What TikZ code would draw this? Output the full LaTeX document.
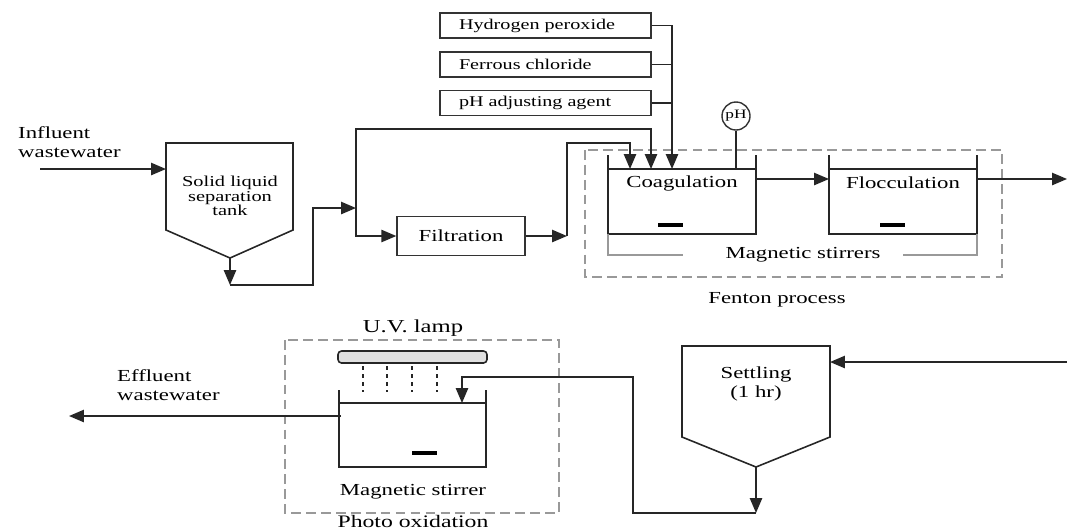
\documentclass[tikz,border=0pt]{standalone}
\usepackage{fontspec}
\setmainfont{Liberation Serif}[FakeStretch=1.35]
\usepackage{tikz}
\usetikzlibrary{arrows.meta}
\tikzstyle{reagent} = [rectangle, draw=black!80, line width=0.8pt, text width=3.46cm, inner xsep=0.38cm, minimum height=0.5cm, align=left, font=\fontsize{8.5}{10}\selectfont]
\tikzstyle{process} = [rectangle, draw=black!80, line width=0.8pt, minimum width=2.56cm, minimum height=0.78cm, font=\fontsize{9.6}{11}\selectfont]
\tikzstyle{probe} = [circle, draw=black!80, line width=0.8pt, minimum size=0.56cm, inner sep=0pt, font=\fontsize{7.3}{9}\selectfont]
\tikzstyle{txt} = [align=center, font=\fontsize{9.6}{10.4}\selectfont]
\tikzstyle{smalltxt} = [align=center, font=\fontsize{8.6}{8.3}\selectfont]
\tikzstyle{tank} = [line width=0.9pt, draw=black!85]
\tikzstyle{stirbar} = [line width=2.4pt, draw=black]
\tikzstyle{ray} = [line width=1.2pt, draw=black!85, dash pattern=on 2.3pt off 2.3pt]
\tikzstyle{zone} = [draw=black!40, line width=0.6pt, dash pattern=on 5.5pt off 3pt]
\tikzstyle{bracket} = [draw=black!40, line width=0.8pt]
\tikzstyle{arrow} = [line width=0.9pt, draw=black!85, -{Triangle[length=8.5pt,width=7pt]}]
\tikzstyle{line} = [line width=0.9pt, draw=black!85]

\begin{document}
\begin{tikzpicture}[x=0.02cm, y=-0.02cm]
\useasboundingbox (0,0) rectangle (1067,529);

% chemicals dosed to coagulation
\node (h2o2) [reagent] at (545.5,25.5) {Hydrogen peroxide};
\node (fecl) [reagent] at (545.5,64.5) {Ferrous chloride};
\node (phagent) [reagent] at (545.5,103) {pH adjusting agent};

% pretreatment
\node (influent) [txt, anchor=west, align=left] at (12,142) {Influent\\wastewater};
\draw [tank] (166,143) -- (293,143) -- (293,230) -- (230,258) -- (166,230) -- cycle;
\node (slt) [smalltxt] at (230,196) {Solid liquid\\separation\\tank};
\node (filt) [process] at (461,236) {Filtration};

% fenton process
\draw [tank] (608,155) -- (608,234) -- (756,234) -- (756,155);
\draw [tank] (608,169) -- (756,169);
\draw [stirbar] (658,225) -- (683,225);
\node (coag) [txt] at (682,183) {Coagulation};
\node (ph) [probe] at (736,116) {pH};
\draw [tank] (829,155) -- (829,234) -- (977,234) -- (977,155);
\draw [tank] (829,169) -- (977,169);
\draw [stirbar] (880,225) -- (905,225);
\node (floc) [txt] at (903,183) {Flocculation};
\draw [bracket] (608,234) -- (608,255) -- (683,255);
\draw [bracket] (903,255) -- (977,255) -- (977,234);
\node (stirrers) [txt] at (803,255) {Magnetic stirrers};
\draw [zone] (585,150) rectangle (1002,277);
\node (fenton) [txt] at (777,300) {Fenton process};

% settling
\draw [tank] (682,346) -- (830,346) -- (830,437) -- (756,467) -- (682,437) -- cycle;
\node (settle) [txt] at (756,384) {Settling\\(1 hr)};

% photo oxidation
\node (uv) [txt, font=\fontsize{10.4}{12}\selectfont] at (413,328) {U.V. lamp};
\draw [line, fill=black!12, rounded corners=2pt] (338,351) rectangle (487,363);
\foreach \x in {363,387,412,437}
  \draw [ray] (\x,366) -- (\x,392);
\draw [tank] (339,390) -- (339,467) -- (486,467) -- (486,390);
\draw [tank] (339,403) -- (486,403);
\draw [stirbar] (412,453) -- (437,453);
\node (stirrer) [txt] at (413,492) {Magnetic stirrer};
\draw [zone] (285,340) rectangle (559,513);
\node (photo) [txt, font=\fontsize{10}{11}\selectfont] at (413,521) {Photo oxidation};
\node (effl) [txt, anchor=west, align=left] at (111,385) {Effluent\\wastewater};

% connection points
\coordinate (inflow) at (40,169);
\coordinate (sltin) at (166,169);
\coordinate (sltout) at (230,258);
\coordinate (sltbot) at (230,285);
\coordinate (split) at (356,208);
\coordinate (filtjoin) at (567,236);
\coordinate (coagin1) at (630,169);
\coordinate (coagin2) at (651,169);
\coordinate (coagin3) at (672,169);
\coordinate (phsens) at (736,169);
\coordinate (coagout) at (756,179);
\coordinate (flocin) at (829,179);
\coordinate (flocout) at (977,179);
\coordinate (fentonout) at (1067,179);
\coordinate (settlein) at (1067,362);
\coordinate (settlewall) at (830,362);
\coordinate (settleout) at (756,467);
\coordinate (settlebot) at (756,513);
\coordinate (photoin) at (462,403);
\coordinate (photoout) at (341,416);
\coordinate (effluent) at (69,416);

\draw [arrow] (inflow) -- (sltin);
\draw [arrow] (sltout) -- (sltbot);
\draw [arrow] (sltbot) -| (313,208) -- (split);
\draw [arrow] (split) |- (filt.west);
\draw [arrow] (split) |- (651,129) -- (coagin2);
\draw [arrow] (filt.east) -- (filtjoin);
\draw [arrow] (filtjoin) |- (630,143) -- (coagin1);
\draw [arrow] (h2o2.east) -| (coagin3);
\draw [line] (fecl.east) -- (fecl.east -| coagin3);
\draw [line] (phagent.east) -- (phagent.east -| coagin3);
\draw [line] (ph) -- (phsens);
\draw [arrow] (coagout) -- (flocin);
\draw [arrow] (flocout) -- (fentonout);
\draw [arrow] (settlein) -- (settlewall);
\draw [arrow] (settleout) -- (settlebot);
\draw [arrow] (settlebot) -| (633,377) -- (462,377) -- (photoin);
\draw [arrow] (photoout) -- (effluent);

\end{tikzpicture}
\end{document}
